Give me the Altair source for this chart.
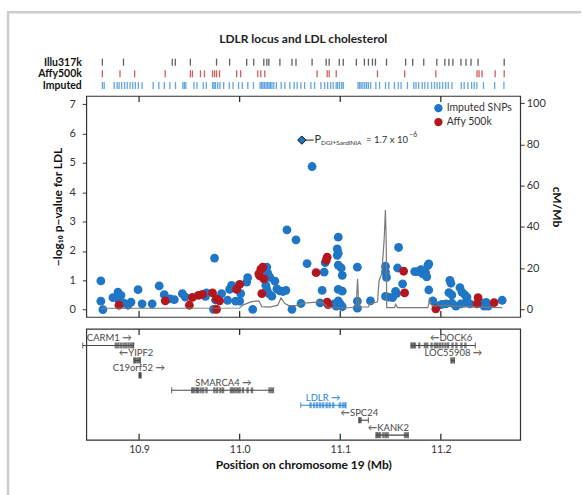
import altair as alt
import pandas as pd

FONT = "Lato"
BLUE = "#1f76c6"
RED = "#b3161c"
DARK = "#333333"
GENE_GRAY = "#474747"
LDLR_BLUE = "#2b84d6"

X_DOMAIN = [10.8475, 11.2789]
X_TICKS = [10.9, 11.0, 11.1, 11.2]
W = 435.3
H_TRACK = 27.1
H_MAIN = 221.7
H_GENE = 111.3

# ---------------- genotyping platform tracks ----------------
track_names = ["Illu317k", "Affy500k", "Imputed"]
track_colors = ["#1c1c1c", "#c0161c", "#1f7fd4"]
illu_pos = [10.8635, 10.8845, 10.933, 10.936, 10.951, 10.977, 10.990, 11.007, 11.014,
            11.024, 11.027, 11.029, 11.040, 11.052, 11.056, 11.072, 11.086, 11.089,
            11.099, 11.103, 11.116, 11.124, 11.128, 11.132, 11.135, 11.146, 11.165,
            11.172, 11.183, 11.196, 11.204, 11.208, 11.212, 11.220, 11.225, 11.230,
            11.237, 11.263]
affy_pos = [10.8635, 10.881, 10.8956, 10.926, 10.951, 10.953, 10.961, 10.965, 10.973,
            10.975, 10.977, 10.980, 10.997, 11.001, 11.018, 11.021, 11.025, 11.077,
            11.087, 11.089, 11.096, 11.137, 11.164, 11.195, 11.236, 11.238, 11.241,
            11.254, 11.263]
imputed_pos = [10.8635, 10.8653, 10.8753, 10.8782, 10.8801, 10.8827, 10.8856, 10.8882,
               10.8911, 10.8937, 10.8963, 10.8993, 10.9030, 10.9140, 10.9196, 10.9251,
               10.9306, 10.9362, 10.9435, 10.9450, 10.9465, 10.9546, 10.9576, 10.9638,
               10.9668, 10.9731, 10.9745, 10.9760, 10.9782, 10.9804, 10.9841, 10.9897,
               10.9934, 10.9989, 11.0026, 11.0081, 11.0137, 11.0203, 11.0218, 11.0232,
               11.0247, 11.0262, 11.0277, 11.0292, 11.0306, 11.0321, 11.0339, 11.0365,
               11.0413, 11.0450, 11.0498, 11.0542, 11.0572, 11.0609, 11.0646, 11.0708,
               11.0745, 11.0808, 11.0845, 11.0875, 11.0904, 11.0930, 11.0959, 11.0974,
               11.0993, 11.1015, 11.1030, 11.1177, 11.1192, 11.1207, 11.1225, 11.1244,
               11.1262, 11.1280, 11.1303, 11.1354, 11.1391, 11.1450, 11.1483, 11.1539,
               11.1576, 11.1605, 11.1668, 11.1731, 11.1753, 11.1779, 11.1815, 11.1841,
               11.1871, 11.1908, 11.1937, 11.1963, 11.1989, 11.2018, 11.2048, 11.2074,
               11.2111, 11.2203, 11.2232, 11.2269, 11.2306, 11.2332, 11.2358, 11.2424,
               11.2535, 11.2627]

# ---------------- association results ----------------
blue_x = [10.862, 10.862, 10.864, 10.874, 10.879, 10.882, 10.880, 10.885, 10.889, 10.892,
          10.899, 10.903, 10.913, 10.920, 10.925, 10.931, 10.935, 10.943, 10.946, 10.967,
          10.966, 10.975, 10.974, 10.976, 10.982, 10.988, 10.990, 10.992, 10.996, 11.000,
          11.001, 11.007, 11.008, 11.013, 11.027, 11.028, 11.030, 11.026, 11.027, 11.029,
          11.032, 11.035, 11.037, 11.040, 11.043, 11.046, 11.047, 11.052, 11.056, 11.061,
          11.067, 11.072, 11.080, 11.082, 11.084, 11.085, 11.098, 11.097, 11.098, 11.097,
          11.098, 11.101, 11.102, 11.098, 11.102, 11.098, 11.100, 11.096, 11.102, 11.094,
          11.117, 11.117, 11.117, 11.130, 11.145, 11.145, 11.146, 11.145, 11.148, 11.152,
          11.155, 11.157, 11.158, 11.162, 11.156, 11.174, 11.177, 11.180, 11.182, 11.185,
          11.187, 11.188, 11.186, 11.188, 11.192, 11.197, 11.201, 11.205, 11.209, 11.210,
          11.208, 11.211, 11.211, 11.215, 11.219, 11.221, 11.224, 11.226, 11.220, 11.224,
          11.229, 11.241, 11.243, 11.245, 11.247, 11.261]
blue_y = [0.98, 0.29, 0.00, 0.41, 0.60, 0.49, 0.32, 0.22, 0.15, 0.26,
          0.68, 0.20, 0.20, 0.81, 0.51, 0.37, 0.34, 0.55, 0.43, 0.57,
          0.45, 1.76, 0.01, 0.33, 0.55, 0.32, 0.69, 0.83, 0.29, 0.29,
          0.55, 0.94, 1.09, 0.01, 1.45, 1.24, 1.10, 0.83, 0.69, 0.55,
          0.46, 0.97, 0.71, 0.64, 0.62, 0.66, 2.72, 0.01, 2.38, 0.21,
          1.57, 4.88, 0.23, 0.66, 1.28, 1.60, 2.47, 2.07, 1.92, 1.85,
          1.52, 1.42, 1.17, 0.69, 0.63, 0.30, 0.20, 0.12, 0.10, 0.20,
          1.45, 0.29, 0.05, 0.30, 1.48, 1.28, 1.10, 0.45, 0.43, 0.41,
          0.62, 1.42, 2.12, 0.88, 0.55, 1.30, 1.30, 1.36, 1.22, 1.25,
          1.50, 1.56, 1.12, 0.67, 0.30, 0.13, 0.18, 0.20, 1.00, 0.90,
          0.58, 0.50, 0.22, 0.12, 0.75, 0.60, 0.50, 0.42, 0.20, 0.22,
          0.20, 0.22, 0.12, 0.25, 0.12, 0.32]
red_x = [10.880, 10.926, 10.950, 10.953, 10.959, 10.963, 10.973, 10.977, 10.977, 10.980,
         10.997, 11.000, 11.019, 11.021, 11.023, 11.020, 11.024, 11.022, 11.076, 11.087,
         11.086, 11.087, 11.088, 11.163, 11.164, 11.195, 11.237, 11.236, 11.253]
red_y = [0.15, 0.30, 0.15, 0.42, 0.49, 0.52, 0.57, 0.01, 0.37, 0.30,
         0.69, 0.86, 1.22, 1.37, 1.45, 1.15, 1.05, 0.55, 1.26, 1.79,
         1.68, 0.26, 0.17, 1.31, 0.57, 0.03, 0.41, 0.20, 0.24]

# recombination rate (cM/Mb)
rec_x = [10.862, 10.930, 11.000, 11.003, 11.012, 11.019, 11.022, 11.030, 11.038, 11.041,
         11.045, 11.049, 11.057, 11.063, 11.067, 11.077, 11.083, 11.087, 11.093, 11.106,
         11.1158, 11.1172, 11.1185, 11.128, 11.1295, 11.1370, 11.1386, 11.1413, 11.1436,
         11.1449, 11.1457, 11.1462, 11.154, 11.155, 11.157, 11.187, 11.189, 11.191,
         11.193, 11.202, 11.230, 11.261]
rec_cm = [0.5, 0.5, 0.6, 2.0, 3.7, 4.1, 1.3, 1.0, 2.0, 5.5,
          2.8, 1.8, 1.9, 3.0, 3.1, 3.5, 3.2, 1.1, 0.8, 0.6,
          1.1, 14.8, 1.1, 1.1, 2.7, 3.5, 14.0, 17.3, 33.4,
          48.2, 33.0, 0.8, 0.8, 2.4, 0.8, 0.8, 4.4, 1.9,
          1.5, 1.9, 1.2, 0.8]

# top hit annotation
ann_x = [11.0618]
ann_y = [5.78]
ann_line_end = [11.0735]
ann_text_x = [11.0745]
ann_parts = ["P", "DGI+SardiNIA", "= 1.7 x 10", "\u22126"]

# ---------------- genes ----------------
gene_names = ["CARM1", "YIPF2", "C19orf52", "SMARCA4", "LDLR", "SPC24", "KANK2", "DOCK6", "LOC55908"]
gene_labels = ["CARM1 \u2192", "\u2190YIPF2", "C19orf52 \u2192", "SMARCA4 \u2192", "LDLR \u2192",
               "\u2190SPC24", "\u2190KANK2", "\u2190DOCK6", "LOC55908 \u2192"]
gene_start = [10.8440, 10.8950, 10.9003, 10.9323, 11.0607, 11.1188, 11.1356, 11.1703, 11.2102]
gene_end = [10.8944, 10.9010, 10.9017, 11.0337, 11.1053, 11.1280, 11.1677, 11.2343, 11.2135]
gene_row = [0, 1, 2, 3, 4, 5, 6, 0, 1]
gene_label_x = [10.8703, 10.8970, 10.8997, 10.9838, 11.0830, 11.1190, 11.1478, 11.2102, 11.2125]
exons = {
    "CARM1": [10.8769, 10.8792, 10.8818, 10.8845, 10.8868, 10.8894, 10.8917, 10.8940],
    "YIPF2": [10.8954, 10.8970, 10.8990, 10.9007],
    "C19orf52": [10.9005, 10.9014],
    "SMARCA4": [10.9528, 10.9545, 10.9571, 10.9584, 10.9611, 10.9637, 10.9670, 10.9749,
                10.9776, 10.9809, 10.9835, 10.9914, 10.9934, 10.9957, 10.9980, 11.0000,
                11.0033, 11.0079, 11.0122, 11.0297, 11.0320],
    "LDLR": [11.0705, 11.0740, 11.0770, 11.0800, 11.0830, 11.0865, 11.0895, 11.0930,
             11.0995, 11.1025, 11.1050],
    "SPC24": [11.1190, 11.1202],
    "KANK2": [11.1363, 11.1380, 11.1396, 11.1429, 11.1452, 11.1472, 11.1644, 11.1665],
    "DOCK6": [11.1712, 11.1730, 11.1743, 11.1786, 11.1842, 11.1865, 11.1908, 11.1941,
              11.1964, 11.1990, 11.2017, 11.2046, 11.2073, 11.2116, 11.2155, 11.2205, 11.2244],
    "LOC55908": [11.2108, 11.2128],
}

# ---------------- tables ----------------
track_rows = []
for name, col, lst in zip(track_names, track_colors, [illu_pos, affy_pos, imputed_pos]):
    for p in lst:
        track_rows.append({"pos": p, "platform": name, "col": col})
track_df = pd.DataFrame(track_rows)

pts_df = pd.DataFrame({
    "pos": blue_x + red_x,
    "logp": blue_y + red_y,
    "type": ["Imputed SNPs"] * len(blue_x) + ["Affy 500k"] * len(red_x),
})
rec_df = pd.DataFrame({"pos": rec_x, "cm": rec_cm})
ann_df = pd.DataFrame({"pos": ann_x, "end": ann_line_end, "tx": ann_text_x, "logp": ann_y})
tick_df = pd.DataFrame({"pos": X_TICKS})

gene_df = pd.DataFrame({
    "name": gene_names, "label": gene_labels, "start": gene_start, "end": gene_end,
    "row": gene_row, "label_x": gene_label_x,
    "col": [LDLR_BLUE if g == "LDLR" else GENE_GRAY for g in gene_names],
})
exon_rows = []
for g, r in zip(gene_names, gene_row):
    for p in exons[g]:
        exon_rows.append({"pos": p, "row": r, "col": LDLR_BLUE if g == "LDLR" else GENE_GRAY})
exon_df = pd.DataFrame(exon_rows)
one_df = pd.DataFrame({"k": [0]})

xs = alt.Scale(domain=X_DOMAIN, nice=False, zero=False)

# ---------------- panel 1: tracks ----------------
tracks = alt.Chart(track_df).mark_tick(size=7, thickness=1.3).encode(
    x=alt.X("pos:Q", scale=xs, axis=None),
    y=alt.Y("platform:N", sort=track_names,
            scale=alt.Scale(type="point", domain=track_names, range=[5.8, 29.2], padding=0),
            axis=alt.Axis(title=None, ticks=False, domain=False, labelPadding=5,
                          labelFontSize=10.5, labelFontWeight="bold", labelColor="#111")),
    color=alt.Color("col:N", scale=None),
).properties(
    width=W, height=H_TRACK,
    view=alt.ViewBackground(stroke="transparent"),
    title=alt.TitleParams("LDLR locus and LDL cholesterol", anchor="middle", frame="group",
                          fontSize=12, fontWeight="bold", color="#222", offset=10),
)

# ---------------- panel 2: association ----------------
y_left = alt.Scale(domain=[-0.248, 7.286], nice=False, zero=False)
y_axis = alt.Axis(title="\u2212log\u2081\u2080 p\u2212value for LDL", values=list(range(8)), tickSize=4,
                  labelPadding=7, titlePadding=4, domain=False, labelFontSize=11, titleFontSize=12)

tick_top = alt.Chart(tick_df).mark_rule(color="#222", strokeWidth=1.2).encode(
    x=alt.X("pos:Q", scale=xs, axis=None), y=alt.value(0), y2=alt.value(6))
tick_bot = alt.Chart(tick_df).mark_rule(color="#222", strokeWidth=1.2).encode(
    x=alt.X("pos:Q", scale=xs, axis=None), y=alt.value(H_MAIN), y2=alt.value(H_MAIN - 6))

pts = alt.Chart(pts_df).mark_circle(size=78, opacity=1).encode(
    x=alt.X("pos:Q", scale=xs, axis=None),
    y=alt.Y("logp:Q", scale=y_left, axis=y_axis),
    color=alt.Color("type:N", scale=alt.Scale(domain=["Imputed SNPs", "Affy 500k"], range=[BLUE, RED]),
                    legend=alt.Legend(title=None, orient="top-right", offset=7, symbolType="circle",
                                      symbolSize=70, labelFontSize=10.5, rowPadding=3,
                                      symbolStrokeWidth=0, padding=0, labelOffset=3,
                                      labelColor="#333")),
)

ann_rule = alt.Chart(ann_df).mark_rule(color="#444", strokeWidth=1.2).encode(
    x=alt.X("pos:Q", scale=xs, axis=None), x2="end:Q",
    y=alt.Y("logp:Q", scale=y_left, axis=y_axis))
ann_pt = alt.Chart(ann_df).mark_point(shape="diamond", filled=True, fill=BLUE, stroke="#111",
                                      strokeWidth=1, size=70, opacity=1).encode(
    x=alt.X("pos:Q", scale=xs, axis=None),
    y=alt.Y("logp:Q", scale=y_left, axis=y_axis))


def ann_text(txt, size, dx, dy):
    return alt.Chart(ann_df).mark_text(align="left", baseline="middle", fontSize=size, dx=dx, dy=dy,
                                       color="#333").encode(
        x=alt.X("tx:Q", scale=xs, axis=None),
        y=alt.Y("logp:Q", scale=y_left, axis=y_axis),
        text=alt.value(txt))


t1 = ann_text(ann_parts[0], 11, 0, 0)
t2 = ann_text(ann_parts[1], 6.5, 6.5, 3)
t3 = ann_text(ann_parts[2], 9.6, 51.5, 0)
t4 = ann_text(ann_parts[3], 6.8, 95, -5)

rec = alt.Chart(rec_df).mark_line(color="#7a7a7a", strokeWidth=1.2).encode(
    x=alt.X("pos:Q", scale=xs, axis=None),
    y=alt.Y("cm:Q", scale=alt.Scale(domain=[-3.73, 103.58], nice=False, zero=False),
            axis=alt.Axis(orient="right", title="cM/Mb", values=[0, 20, 40, 60, 80, 100],
                          tickSize=4, labelPadding=2, titlePadding=4, domain=False,
                          labelFontSize=11, titleFontSize=12)),
)

main = alt.layer(
    alt.layer(tick_top, tick_bot, pts, ann_rule, ann_pt, t1, t2, t3, t4),
    rec,
).resolve_scale(y="independent").properties(width=W, height=H_MAIN)

# ---------------- panel 3: genes ----------------
gy = alt.Scale(domain=[-1.107, 6.313], reverse=True, nice=False, zero=False)
gx_axis = alt.Axis(title="Position on chromosome 19 (Mb)", values=X_TICKS, format=".1f", ticks=False,
                   domain=False, labelPadding=5, labelFontSize=10.5, titleFontSize=12, titlePadding=4)

g_tick_top = alt.Chart(tick_df).mark_rule(color="#222", strokeWidth=1.2).encode(
    x=alt.X("pos:Q", scale=xs, axis=gx_axis), y=alt.value(0), y2=alt.value(6))
g_tick_bot = alt.Chart(tick_df).mark_rule(color="#222", strokeWidth=1.2).encode(
    x=alt.X("pos:Q", scale=xs, axis=gx_axis), y=alt.value(H_GENE), y2=alt.value(H_GENE - 6))
introns = alt.Chart(gene_df).mark_rule(strokeWidth=1.1).encode(
    x=alt.X("start:Q", scale=xs, axis=gx_axis), x2="end:Q",
    y=alt.Y("row:Q", scale=gy, axis=None), color=alt.Color("col:N", scale=None))
cap_s = alt.Chart(gene_df).mark_tick(orient="vertical", size=6, thickness=1.2).encode(
    x=alt.X("start:Q", scale=xs, axis=gx_axis), y=alt.Y("row:Q", scale=gy, axis=None),
    color=alt.Color("col:N", scale=None))
cap_e = alt.Chart(gene_df).mark_tick(orient="vertical", size=6, thickness=1.2).encode(
    x=alt.X("end:Q", scale=xs, axis=gx_axis), y=alt.Y("row:Q", scale=gy, axis=None),
    color=alt.Color("col:N", scale=None))
ex = alt.Chart(exon_df).mark_tick(orient="vertical", size=6, thickness=2.4).encode(
    x=alt.X("pos:Q", scale=xs, axis=gx_axis), y=alt.Y("row:Q", scale=gy, axis=None),
    color=alt.Color("col:N", scale=None))
glab = alt.Chart(gene_df).mark_text(fontSize=9.5, dy=-7, baseline="middle", align="center").encode(
    x=alt.X("label_x:Q", scale=xs, axis=gx_axis), y=alt.Y("row:Q", scale=gy, axis=None),
    text="label:N", color=alt.Color("col:N", scale=None))

# light page frame (decoration)
frame_h = alt.Chart(one_df).mark_rule(color="#cccccc", strokeWidth=2.5).encode(
    x=alt.value(-78.5), x2=alt.value(496.4), y=alt.value(-317.7))
frame_v = alt.Chart(one_df).mark_rule(color="#cccccc", strokeWidth=2.5).encode(
    x=alt.value(-78.5), y=alt.value(-318.9), y2=alt.value(167.0))

genes = alt.layer(g_tick_top, g_tick_bot, introns, cap_s, cap_e, ex, glab, frame_h, frame_v).properties(
    width=W, height=H_GENE)

chart = alt.vconcat(tracks, main, genes, spacing=11.7, bounds="flush").resolve_scale(
    color="independent"
).resolve_legend(color="independent").properties(
    padding={"left": 5.55, "top": 7.75, "right": 0, "bottom": 0},
).configure(font=FONT).configure_view(
    stroke=DARK, strokeWidth=1.2
).configure_axis(
    grid=False, labelColor="#333", titleColor="#111", tickColor="#333",
    titleFontWeight="bold", labelFont=FONT, titleFont=FONT
)

chart.save("out.html", embed_options={"renderer": "svg", "actions": False})
